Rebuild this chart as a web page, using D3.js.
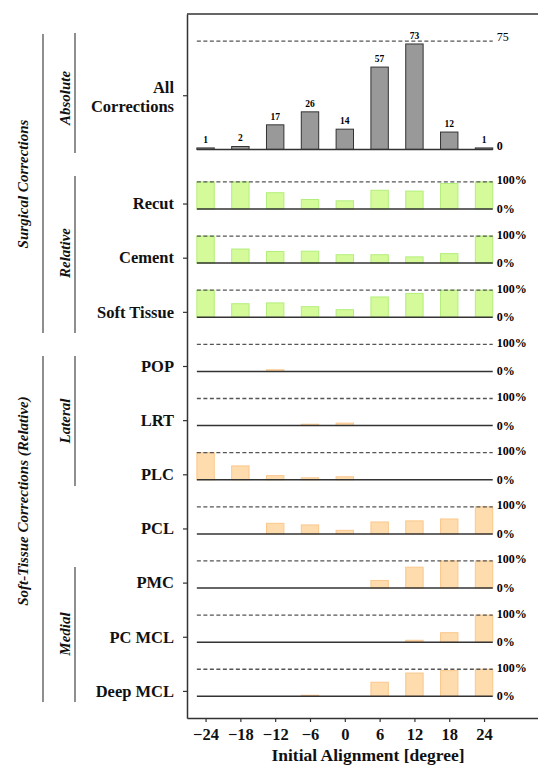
<!DOCTYPE html>
<html>
<head>
<meta charset="utf-8">
<script src="https://cdn.jsdelivr.net/npm/d3@7"></script>
<style>
  body { margin:0; background:#fff; }
  svg text { font-family:"Liberation Serif","Times New Roman",serif; }
</style>
</head>
<body>
<svg id="viz-svg" width="538" height="767"></svg>
<script>
// initial alignment bins (degree)
var angles = [-24, -18, -12, -6, 0, 6, 12, 18, 24];

// absolute number of corrections per bin
var allCorrections = [1, 2, 17, 26, 14, 57, 73, 12, 1];

// relative shares (0..1) per bin
var surgicalNames = ["Recut", "Cement", "Soft Tissue"];
var recut      = [1.00, 1.00, 0.60, 0.35, 0.30, 0.69, 0.66, 0.94, 1.00];
var cement     = [1.00, 0.52, 0.43, 0.44, 0.31, 0.31, 0.23, 0.35, 1.00];
var softTissue = [1.00, 0.50, 0.53, 0.39, 0.28, 0.75, 0.88, 1.00, 1.00];

var tissueNames = ["POP", "LRT", "PLC", "PCL", "PMC", "PC MCL", "Deep MCL"];
var pop     = [0, 0, 0.06, 0, 0, 0, 0, 0, 0];
var lrt     = [0, 0, 0, 0.05, 0.09, 0, 0, 0, 0];
var plc     = [1.00, 0.51, 0.15, 0.07, 0.11, 0, 0, 0, 0];
var pcl     = [0, 0, 0.39, 0.33, 0.13, 0.44, 0.48, 0.55, 1.00];
var pmc     = [0, 0, 0, 0, 0, 0.28, 0.77, 1.00, 1.00];
var pcMcl   = [0, 0, 0, 0, 0, 0, 0.07, 0.35, 1.00];
var deepMcl = [0, 0, 0, 0.04, 0, 0.52, 0.86, 0.95, 1.00];

var absTicks = [0, 75];
var relTicks = ["0%", "100%"];

(function(){
  var svg = d3.select("#viz-svg")
    , W = 538
    , top = 14, bottom = 718, left = 187
    , x = d3.scaleLinear().domain([-27.2, 33.3]).range([left, W])
    , y = d3.scaleLinear().domain([-0.4, 12.6]).range([bottom, top])
    , halfW = 1.5
    , relH = 0.5          // row units for 100%
    , allBase = 10.1
    , allScale = 2 / 75   // row units per count
    , dark = "#333"
    ;

  var relRows = [
      {name:surgicalNames[0], vals:recut, kind:"s"}
    , {name:surgicalNames[1], vals:cement, kind:"s"}
    , {name:surgicalNames[2], vals:softTissue, kind:"s"}
    , {name:tissueNames[0], vals:pop, kind:"t"}
    , {name:tissueNames[1], vals:lrt, kind:"t"}
    , {name:tissueNames[2], vals:plc, kind:"t"}
    , {name:tissueNames[3], vals:pcl, kind:"t"}
    , {name:tissueNames[4], vals:pmc, kind:"t"}
    , {name:tissueNames[5], vals:pcMcl, kind:"t"}
    , {name:tissueNames[6], vals:deepMcl, kind:"t"}
  ];
  relRows.forEach(function(r, i){ r.base = relRows.length - 1 - i; });

  var fills = {s:"#d4fa9a", t:"#fedcad"}
    , strokes = {s:"#b4ee7c", t:"#fbc78c"};

  var plot = svg.append("g").attr("id", "plot");

  // ---- All corrections (absolute) ----
  var allG = plot.append("g").attr("id", "all-row");
  allG.selectAll("rect")
    .data(angles.map(function(a, i){ return {a:a, v:allCorrections[i]}; }))
    .enter().append("rect")
    .attr("x", function(d){ return x(d.a - halfW); })
    .attr("width", x(halfW) - x(-halfW))
    .attr("y", function(d){ return y(allBase + d.v * allScale); })
    .attr("height", function(d){ return y(allBase) - y(allBase + d.v * allScale); })
    .attr("fill", "#999")
    .attr("stroke", dark)
    .attr("stroke-width", 1);

  allG.selectAll(".val")
    .data(angles.map(function(a, i){ return {a:a, v:allCorrections[i]}; }))
    .enter().append("text")
    .attr("class", "val")
    .attr("x", function(d){ return x(d.a); })
    .attr("y", function(d){ return y(allBase + d.v * allScale) - 5; })
    .attr("text-anchor", "middle")
    .attr("font-size", 9.5)
    .attr("font-weight", "bold")
    .text(function(d){ return d.v; });

  allG.append("line")
    .attr("x1", x(-25.5)).attr("x2", x(25.5))
    .attr("y1", y(allBase + 75 * allScale)).attr("y2", y(allBase + 75 * allScale))
    .attr("stroke", "#555").attr("stroke-width", 1.3).attr("stroke-dasharray", "4,2.5");
  allG.append("line")
    .attr("x1", x(-25.5)).attr("x2", x(25.5))
    .attr("y1", y(allBase)).attr("y2", y(allBase))
    .attr("stroke", dark).attr("stroke-width", 1.5);

  allG.selectAll(".lim")
    .data(absTicks)
    .enter().append("text")
    .attr("class", "lim")
    .attr("x", x(25.5) + 4)
    .attr("y", function(d){ return y(allBase + d * allScale) - (d ? 4 : 3.5); })
    .attr("dominant-baseline", "central")
    .attr("font-size", 12)
    .attr("font-weight", function(d){ return d ? "normal" : "bold"; })
    .text(function(d){ return d; });

  // ---- relative rows ----
  var rowG = plot.selectAll(".rel-row")
    .data(relRows)
    .enter().append("g")
    .attr("class", "rel-row");

  rowG.selectAll("rect")
    .data(function(r){ return angles.map(function(a, i){ return {a:a, v:r.vals[i], r:r}; })
      .filter(function(d){ return d.v > 0; }); })
    .enter().append("rect")
    .attr("x", function(d){ return x(d.a - halfW); })
    .attr("width", x(halfW) - x(-halfW))
    .attr("y", function(d){ return y(d.r.base + d.v * relH); })
    .attr("height", function(d){ return y(d.r.base) - y(d.r.base + d.v * relH); })
    .attr("fill", function(d){ return fills[d.r.kind]; })
    .attr("stroke", function(d){ return strokes[d.r.kind]; })
    .attr("stroke-width", 1);

  rowG.append("line")
    .attr("x1", x(-25.5)).attr("x2", x(25.5))
    .attr("y1", function(r){ return y(r.base + relH); })
    .attr("y2", function(r){ return y(r.base + relH); })
    .attr("stroke", "#555").attr("stroke-width", 1.3).attr("stroke-dasharray", "4,2.5");
  rowG.append("line")
    .attr("x1", x(-25.5)).attr("x2", x(25.5))
    .attr("y1", function(r){ return y(r.base); })
    .attr("y2", function(r){ return y(r.base); })
    .attr("stroke", dark).attr("stroke-width", 1.5);

  rowG.selectAll(".lim")
    .data(function(r){ return relTicks.map(function(t, i){ return {t:t, yy:y(r.base + i * relH) - (i ? 1.5 : 0)}; }); })
    .enter().append("text")
    .attr("class", "lim")
    .attr("x", x(25.5) + 4)
    .attr("y", function(d){ return d.yy; })
    .attr("dominant-baseline", "central")
    .attr("font-size", 12)
    .attr("font-weight", "bold")
    .text(function(d){ return d.t; });

  // ---- axes ----
  var yTickVals = [allBase + 1].concat(relRows.map(function(r){ return r.base + 0.1; }))
    , yTickNames = ["All Corrections"].concat(relRows.map(function(r){ return r.name; }));

  var yAxis = d3.axisLeft(y)
    .tickValues(yTickVals)
    .tickSize(4)
    .tickSizeOuter(0)
    .tickPadding(9)
    .tickFormat(function(d, i){ return yTickNames[i]; });

  var yAx = svg.append("g")
    .attr("transform", "translate(" + left + ",0)")
    .call(yAxis);

  var xAxis = d3.axisBottom(x)
    .tickValues(angles)
    .tickSize(4)
    .tickSizeOuter(0)
    .tickPadding(6);

  var xAx = svg.append("g")
    .attr("transform", "translate(0," + bottom + ")")
    .call(xAxis);

  [yAx, xAx].forEach(function(ax){
    ax.select(".domain").attr("stroke", dark).attr("stroke-width", 1.5);
    ax.selectAll(".tick line").attr("stroke", dark).attr("stroke-width", 1.2);
    ax.selectAll(".tick text")
      .attr("fill", "#111")
      .attr("font-family", "Liberation Serif, serif")
      .attr("font-weight", "bold")
      .attr("font-size", 16.5);
  });

  // two-line label for the first row
  yAx.selectAll(".tick text")
    .filter(function(d, i){ return i === 0; })
    .text(null)
    .attr("dy", null)
    .selectAll("tspan")
    .data(["All", "Corrections"])
    .enter().append("tspan")
    .attr("x", -13)
    .attr("y", function(d, i){ return i ? 11 : -8; })
    .attr("dy", "0.32em")
    .text(function(d){ return d; });

  svg.append("line")
    .attr("x1", left).attr("x2", W)
    .attr("y1", top).attr("y2", top)
    .attr("stroke", dark).attr("stroke-width", 1.5);

  svg.append("text")
    .attr("x", 368).attr("y", 761)
    .attr("text-anchor", "middle")
    .attr("font-size", 17.5)
    .attr("font-weight", "bold")
    .attr("fill", "#111")
    .text("Initial Alignment [degree]");

  // ---- group brackets on the left ----
  var groups = [
      {label:"Surgical Corrections", lx:43, tx:28, y0:34, y1:333, ty:184}
    , {label:"Soft-Tissue Corrections (Relative)", lx:43, tx:28, y0:356, y1:702, ty:501}
    , {label:"Absolute", lx:75, tx:70, y0:33, y1:153, ty:98}
    , {label:"Relative", lx:75, tx:70, y0:176, y1:333, ty:253}
    , {label:"Lateral", lx:75, tx:70, y0:356, y1:486, ty:421}
    , {label:"Medial", lx:75, tx:70, y0:567, y1:702, ty:634}
  ];

  var grp = svg.selectAll(".grp")
    .data(groups)
    .enter().append("g")
    .attr("class", "grp");

  grp.append("line")
    .attr("x1", function(d){ return d.lx; }).attr("x2", function(d){ return d.lx; })
    .attr("y1", function(d){ return d.y0; }).attr("y2", function(d){ return d.y1; })
    .attr("stroke", "#444").attr("stroke-width", 1.2);

  grp.append("text")
    .attr("transform", function(d){ return "translate(" + d.tx + "," + d.ty + ") rotate(-90)"; })
    .attr("text-anchor", "middle")
    .attr("font-size", 15)
    .attr("font-weight", "bold")
    .attr("font-style", "italic")
    .attr("fill", "#111")
    .text(function(d){ return d.label; });
})();
</script>
</body>
</html>
